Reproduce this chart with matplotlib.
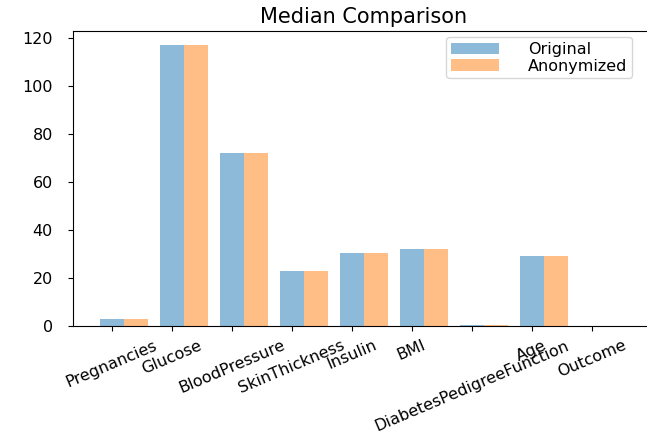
import numpy as np
import matplotlib
matplotlib.use('Agg')
import matplotlib.pyplot as plt

# median of each column, original vs anonymized data
columns = ['Pregnancies', 'Glucose', 'BloodPressure', 'SkinThickness', 'Insulin',
           'BMI', 'DiabetesPedigreeFunction', 'Age', 'Outcome']
original_median = [3.0, 117.0, 72.0, 23.0, 30.5, 32.0, 0.3725, 29.0, 0.0]
anonymized_median = [3.0, 117.0, 72.0, 23.0, 30.5, 32.0, 0.3725, 29.0, 0.0]

fig = plt.figure(figsize=(6.47, 4.32), dpi=100)
# axes runs a bit past the right edge, like the cropped original
ax = fig.add_axes([0.113, 0.2454, 0.898, 0.683])

x = np.arange(len(columns))
width = 0.4
ax.bar(x, original_median, width, alpha=0.5, label='Original')
ax.bar(x + width, anonymized_median, width, alpha=0.5, label='Anonymized')

ax.set_xticks(x)
ax.set_xticklabels(columns, rotation=23, fontsize=11.5)
ax.tick_params(axis='y', labelsize=11.5, pad=11)
ax.tick_params(axis='x', pad=5)
ax.set_title('Median Comparison', fontsize=15)
ax.legend(loc='upper right', bbox_to_anchor=(0.977, 0.914),
          bbox_transform=fig.transFigure, borderaxespad=0, fontsize=11.5,
          handlelength=3.0, handletextpad=1.8, labelspacing=0.1,
          borderpad=0.3)

plt.savefig('out.png', dpi=100)
plt.close()
